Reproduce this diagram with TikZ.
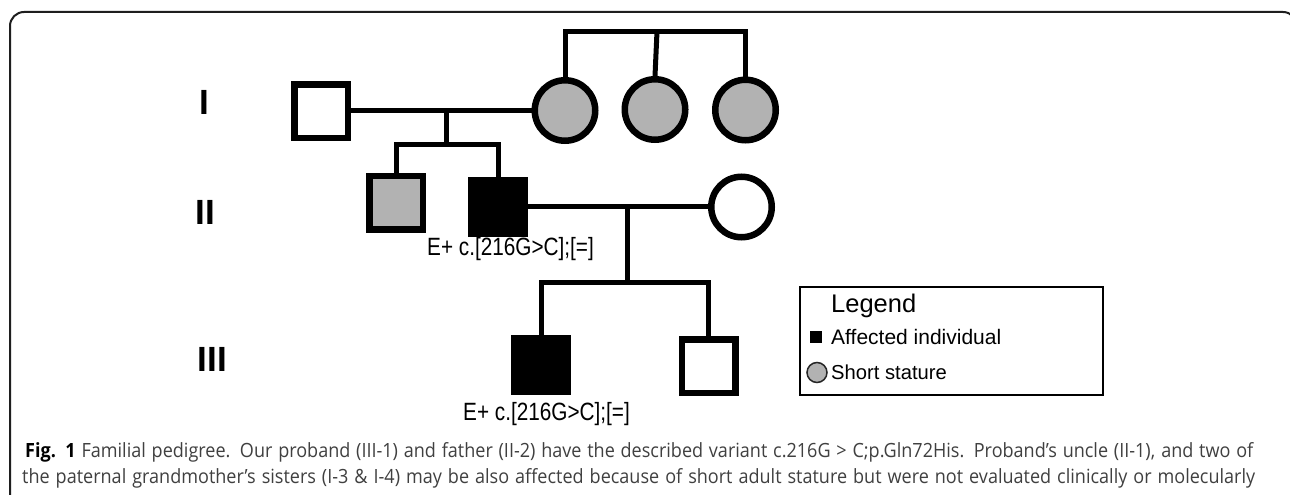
\documentclass[tikz,border=0pt]{standalone}
\usepackage{fontspec}
\setmainfont{Open Sans}
\newfontfamily\arial{Liberation Sans}
\newfontfamily\capfont{Open Sans}
\definecolor{statgray}{RGB}{178,178,178}
\definecolor{captext}{RGB}{64,64,64}
\definecolor{framecol}{RGB}{30,30,30}
\tikzset{
  male/.style={rectangle, draw=black, line width=6.5pt, minimum size=53.5pt, inner sep=0pt},
  female/.style={circle, draw=black, line width=6.5pt, minimum size=60.5pt, inner sep=0pt},
  shortst/.style={fill=statgray},
  affected/.style={fill=black},
  unaff/.style={fill=white},
  kin/.style={line width=5pt, line join=miter},
  gen/.style={font=\arial\bfseries\fontsize{35}{35}\selectfont, inner sep=0pt},
  geno/.style={font=\arial\fontsize{25}{25}\selectfont, inner sep=0pt},
  legtext/.style={font=\arial\fontsize{21}{21}\selectfont, inner sep=0pt, anchor=base west},
  capline/.style={inner sep=0pt, anchor=base west, text=captext, font=\capfont\fontsize{19.6}{24}\selectfont}
}
\newcommand{\narrowtext}[1]{\scalebox{0.83}[1]{#1}}
\newcommand{\capfill}[2]{\scalebox{0.92}[1]{\makebox[\dimexpr #1pt*100/92\relax][s]{#2}}}
\begin{document}
\begin{tikzpicture}[x=1pt, y=-1pt]
\useasboundingbox (0,0) rectangle (1290,495);
\clip (0,0) rectangle (1290,495);
\fill[white] (0,0) rectangle (1290,495);

% outer panel frame
\draw[framecol, line width=2pt, rounded corners=14pt] (10,12) rectangle (1297,540);

% generation numerals
\node[gen] (gI) at (204,102.5) {I};
\node[gen] (gII) at (205.5,212.5) {II};
\node[gen] (gIII) at (212.5,359.5) {III};

% generation I
\node[male, unaff] (I1) at (321,111) {};
\node[female, shortst] (I2) at (565,110.5) {};
\node[female, shortst] (I3) at (655,109.5) {};
\node[female, shortst] (I4) at (745.5,110) {};

% generation II
\node[male, shortst] (II1) at (396,202.5) {};
\node[male, affected] (II2) at (498,206.5) {};
\node[female, unaff] (II3) at (741.5,207) {};

% generation III
\node[male, affected] (III1) at (541,364.5) {};
\node[male, unaff] (III2) at (708.5,366) {};

% genotype labels
\node[geno] (g2) at (510.5,249.5) {\narrowtext{E+ c.[216G>C];[=]}};
\node[geno] (g3) at (546.5,414.5) {\narrowtext{E+ c.[216G>C];[=]}};

% sibship of the grandmother and her sisters
\coordinate (tI) at (657,31.5);
\draw[kin] (I2.north) |- (tI) -| (I4.north);
\draw[kin] (tI) -- (I3.north);

% first couple and their sons
\coordinate (m1) at (446,110);
\coordinate (s1) at (446,144);
\draw[kin] (I1.east |- m1) -- (I2.west |- m1);
\draw[kin] (m1) -- (s1);
\draw[kin] (II1.north) |- (s1) -| (II2.north);

% second couple and their sons
\coordinate (m2) at (627,206.5);
\coordinate (s2) at (627,282.5);
\draw[kin] (II2.east |- m2) -- (II3.west |- m2);
\draw[kin] (m2) -- (s2);
\draw[kin] (III1.north) |- (s2) -| (III2.north);

% legend
\node[draw=black, line width=2pt, minimum width=303pt, minimum height=108pt, inner sep=0pt] (leg) at (951.5,341) {};
\node[legtext, font=\arial\fontsize{25.5}{25.5}\selectfont] (legt) at (831,312) {Legend};
\node[fill=black, minimum size=12pt, inner sep=0pt] (legsq) at (816,337) {};
\node[legtext] (lega) at (831,344.5) {Affected individual};
\node[circle, fill=statgray, draw=black!85, line width=1.5pt, minimum size=20pt, inner sep=0pt] (legci) at (817,372.5) {};
\node[legtext, font=\arial\fontsize{20.2}{20.2}\selectfont] (legb) at (831,379.5) {Short stature};

% caption
\node[capline] (cap1) at (25,457) {\capfill{1228}{{\color{black}\bfseries Fig. 1} Familial pedigree. Our proband (III-1) and father (II-2) have the described variant c.216G > C;p.Gln72His. Proband’s uncle (II-1), and two of}};
\node[capline] (cap2) at (22,483) {\capfill{1233}{the paternal grandmother’s sisters (I-3 \& I-4) may be also affected because of short adult stature but were not evaluated clinically or molecularly}};
\end{tikzpicture}
\end{document}
